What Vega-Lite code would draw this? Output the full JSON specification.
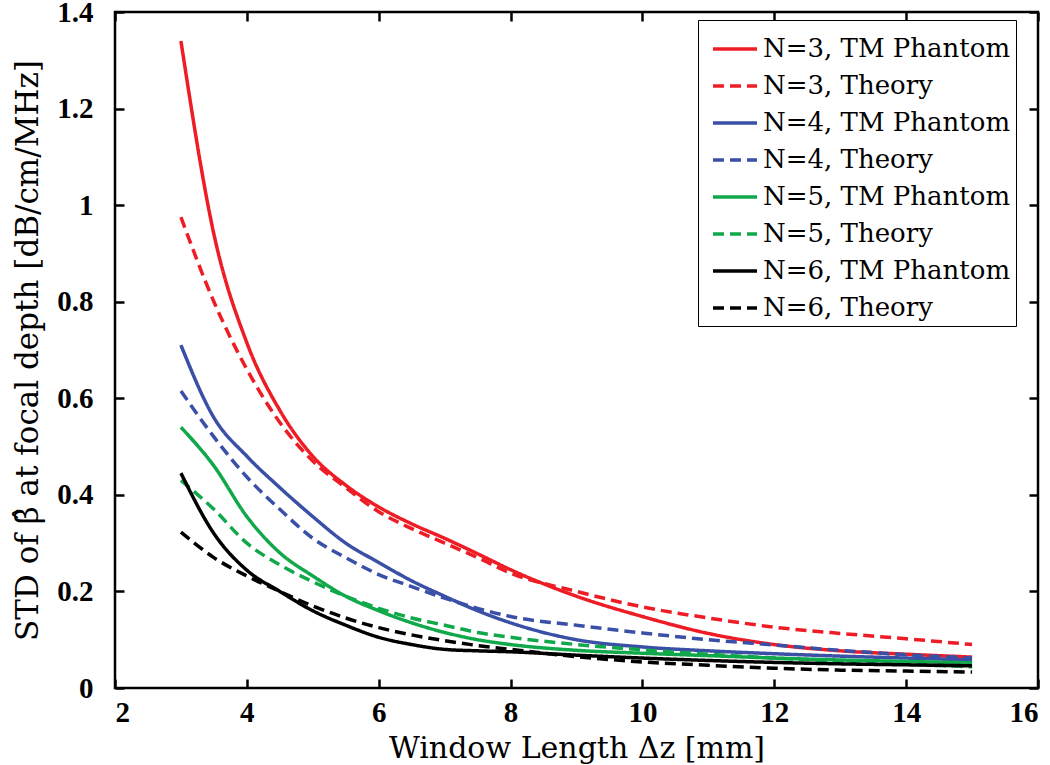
{
  "$schema": "https://vega.github.io/schema/vega-lite/v6.json",
  "width": 923,
  "height": 676,
  "autosize": "none",
  "padding": {"left": 115, "top": 12, "right": 12, "bottom": 77},
  "background": "white",
  "config": {
    "view": {"stroke": "black", "strokeWidth": 2.5},
    "axis": {
      "grid": false,
      "domain": false,
      "tickColor": "black",
      "tickWidth": 2.5,
      "tickSize": -9,
      "labelFont": "Liberation Serif",
      "labelFontWeight": "bold",
      "labelFontSize": 29,
      "labelColor": "black",
      "titleFont": "DejaVu Serif",
      "titleFontWeight": "normal",
      "titleFontSize": 30,
      "titleColor": "black"
    }
  },
  "data": {"values": [
    {"x": 3, "y": 1.34, "s": "N=3, TM Phantom"},
    {"x": 3.5, "y": 0.94, "s": "N=3, TM Phantom"},
    {"x": 4, "y": 0.715, "s": "N=3, TM Phantom"},
    {"x": 4.5, "y": 0.575, "s": "N=3, TM Phantom"},
    {"x": 5, "y": 0.48, "s": "N=3, TM Phantom"},
    {"x": 5.5, "y": 0.42, "s": "N=3, TM Phantom"},
    {"x": 6, "y": 0.375, "s": "N=3, TM Phantom"},
    {"x": 6.5, "y": 0.34, "s": "N=3, TM Phantom"},
    {"x": 7, "y": 0.31, "s": "N=3, TM Phantom"},
    {"x": 7.5, "y": 0.278, "s": "N=3, TM Phantom"},
    {"x": 8, "y": 0.245, "s": "N=3, TM Phantom"},
    {"x": 9, "y": 0.19, "s": "N=3, TM Phantom"},
    {"x": 10, "y": 0.148, "s": "N=3, TM Phantom"},
    {"x": 11, "y": 0.113, "s": "N=3, TM Phantom"},
    {"x": 12, "y": 0.09, "s": "N=3, TM Phantom"},
    {"x": 13, "y": 0.077, "s": "N=3, TM Phantom"},
    {"x": 14, "y": 0.07, "s": "N=3, TM Phantom"},
    {"x": 15, "y": 0.064, "s": "N=3, TM Phantom"},

    {"x": 3, "y": 0.975, "s": "N=3, Theory"},
    {"x": 3.5, "y": 0.8, "s": "N=3, Theory"},
    {"x": 4, "y": 0.66, "s": "N=3, Theory"},
    {"x": 4.5, "y": 0.55, "s": "N=3, Theory"},
    {"x": 5, "y": 0.47, "s": "N=3, Theory"},
    {"x": 5.5, "y": 0.415, "s": "N=3, Theory"},
    {"x": 6, "y": 0.365, "s": "N=3, Theory"},
    {"x": 6.5, "y": 0.33, "s": "N=3, Theory"},
    {"x": 7, "y": 0.3, "s": "N=3, Theory"},
    {"x": 7.5, "y": 0.27, "s": "N=3, Theory"},
    {"x": 8, "y": 0.238, "s": "N=3, Theory"},
    {"x": 9, "y": 0.2, "s": "N=3, Theory"},
    {"x": 10, "y": 0.168, "s": "N=3, Theory"},
    {"x": 11, "y": 0.145, "s": "N=3, Theory"},
    {"x": 12, "y": 0.126, "s": "N=3, Theory"},
    {"x": 13, "y": 0.113, "s": "N=3, Theory"},
    {"x": 14, "y": 0.102, "s": "N=3, Theory"},
    {"x": 15, "y": 0.09, "s": "N=3, Theory"},

    {"x": 3, "y": 0.71, "s": "N=4, TM Phantom"},
    {"x": 3.5, "y": 0.56, "s": "N=4, TM Phantom"},
    {"x": 4, "y": 0.48, "s": "N=4, TM Phantom"},
    {"x": 4.5, "y": 0.415, "s": "N=4, TM Phantom"},
    {"x": 5, "y": 0.355, "s": "N=4, TM Phantom"},
    {"x": 5.5, "y": 0.3, "s": "N=4, TM Phantom"},
    {"x": 6, "y": 0.26, "s": "N=4, TM Phantom"},
    {"x": 6.5, "y": 0.222, "s": "N=4, TM Phantom"},
    {"x": 7, "y": 0.19, "s": "N=4, TM Phantom"},
    {"x": 7.5, "y": 0.16, "s": "N=4, TM Phantom"},
    {"x": 8, "y": 0.135, "s": "N=4, TM Phantom"},
    {"x": 9, "y": 0.1, "s": "N=4, TM Phantom"},
    {"x": 10, "y": 0.085, "s": "N=4, TM Phantom"},
    {"x": 11, "y": 0.077, "s": "N=4, TM Phantom"},
    {"x": 12, "y": 0.071, "s": "N=4, TM Phantom"},
    {"x": 13, "y": 0.066, "s": "N=4, TM Phantom"},
    {"x": 14, "y": 0.062, "s": "N=4, TM Phantom"},
    {"x": 15, "y": 0.058, "s": "N=4, TM Phantom"},

    {"x": 3, "y": 0.615, "s": "N=4, Theory"},
    {"x": 3.5, "y": 0.52, "s": "N=4, Theory"},
    {"x": 4, "y": 0.437, "s": "N=4, Theory"},
    {"x": 4.5, "y": 0.37, "s": "N=4, Theory"},
    {"x": 5, "y": 0.31, "s": "N=4, Theory"},
    {"x": 5.5, "y": 0.27, "s": "N=4, Theory"},
    {"x": 6, "y": 0.235, "s": "N=4, Theory"},
    {"x": 6.5, "y": 0.21, "s": "N=4, Theory"},
    {"x": 7, "y": 0.186, "s": "N=4, Theory"},
    {"x": 7.5, "y": 0.165, "s": "N=4, Theory"},
    {"x": 8, "y": 0.148, "s": "N=4, Theory"},
    {"x": 9, "y": 0.13, "s": "N=4, Theory"},
    {"x": 10, "y": 0.114, "s": "N=4, Theory"},
    {"x": 11, "y": 0.1, "s": "N=4, Theory"},
    {"x": 12, "y": 0.089, "s": "N=4, Theory"},
    {"x": 13, "y": 0.078, "s": "N=4, Theory"},
    {"x": 14, "y": 0.069, "s": "N=4, Theory"},
    {"x": 15, "y": 0.062, "s": "N=4, Theory"},

    {"x": 3, "y": 0.54, "s": "N=5, TM Phantom"},
    {"x": 3.5, "y": 0.46, "s": "N=5, TM Phantom"},
    {"x": 4, "y": 0.355, "s": "N=5, TM Phantom"},
    {"x": 4.5, "y": 0.28, "s": "N=5, TM Phantom"},
    {"x": 5, "y": 0.232, "s": "N=5, TM Phantom"},
    {"x": 5.5, "y": 0.19, "s": "N=5, TM Phantom"},
    {"x": 6, "y": 0.16, "s": "N=5, TM Phantom"},
    {"x": 6.5, "y": 0.135, "s": "N=5, TM Phantom"},
    {"x": 7, "y": 0.115, "s": "N=5, TM Phantom"},
    {"x": 7.5, "y": 0.1, "s": "N=5, TM Phantom"},
    {"x": 8, "y": 0.09, "s": "N=5, TM Phantom"},
    {"x": 9, "y": 0.078, "s": "N=5, TM Phantom"},
    {"x": 10, "y": 0.072, "s": "N=5, TM Phantom"},
    {"x": 11, "y": 0.067, "s": "N=5, TM Phantom"},
    {"x": 12, "y": 0.062, "s": "N=5, TM Phantom"},
    {"x": 13, "y": 0.058, "s": "N=5, TM Phantom"},
    {"x": 14, "y": 0.055, "s": "N=5, TM Phantom"},
    {"x": 15, "y": 0.052, "s": "N=5, TM Phantom"},

    {"x": 3, "y": 0.43, "s": "N=5, Theory"},
    {"x": 3.5, "y": 0.37, "s": "N=5, Theory"},
    {"x": 4, "y": 0.3, "s": "N=5, Theory"},
    {"x": 4.5, "y": 0.255, "s": "N=5, Theory"},
    {"x": 5, "y": 0.22, "s": "N=5, Theory"},
    {"x": 5.5, "y": 0.19, "s": "N=5, Theory"},
    {"x": 6, "y": 0.165, "s": "N=5, Theory"},
    {"x": 6.5, "y": 0.145, "s": "N=5, Theory"},
    {"x": 7, "y": 0.13, "s": "N=5, Theory"},
    {"x": 7.5, "y": 0.115, "s": "N=5, Theory"},
    {"x": 8, "y": 0.105, "s": "N=5, Theory"},
    {"x": 9, "y": 0.09, "s": "N=5, Theory"},
    {"x": 10, "y": 0.079, "s": "N=5, Theory"},
    {"x": 11, "y": 0.07, "s": "N=5, Theory"},
    {"x": 12, "y": 0.062, "s": "N=5, Theory"},
    {"x": 13, "y": 0.055, "s": "N=5, Theory"},
    {"x": 14, "y": 0.049, "s": "N=5, Theory"},
    {"x": 15, "y": 0.044, "s": "N=5, Theory"},

    {"x": 3, "y": 0.445, "s": "N=6, TM Phantom"},
    {"x": 3.5, "y": 0.32, "s": "N=6, TM Phantom"},
    {"x": 4, "y": 0.244, "s": "N=6, TM Phantom"},
    {"x": 4.5, "y": 0.2, "s": "N=6, TM Phantom"},
    {"x": 5, "y": 0.16, "s": "N=6, TM Phantom"},
    {"x": 5.5, "y": 0.13, "s": "N=6, TM Phantom"},
    {"x": 6, "y": 0.105, "s": "N=6, TM Phantom"},
    {"x": 6.5, "y": 0.09, "s": "N=6, TM Phantom"},
    {"x": 7, "y": 0.08, "s": "N=6, TM Phantom"},
    {"x": 7.5, "y": 0.077, "s": "N=6, TM Phantom"},
    {"x": 8, "y": 0.075, "s": "N=6, TM Phantom"},
    {"x": 9, "y": 0.068, "s": "N=6, TM Phantom"},
    {"x": 10, "y": 0.062, "s": "N=6, TM Phantom"},
    {"x": 11, "y": 0.057, "s": "N=6, TM Phantom"},
    {"x": 12, "y": 0.053, "s": "N=6, TM Phantom"},
    {"x": 13, "y": 0.05, "s": "N=6, TM Phantom"},
    {"x": 14, "y": 0.048, "s": "N=6, TM Phantom"},
    {"x": 15, "y": 0.046, "s": "N=6, TM Phantom"},

    {"x": 3, "y": 0.323, "s": "N=6, Theory"},
    {"x": 3.5, "y": 0.27, "s": "N=6, Theory"},
    {"x": 4, "y": 0.232, "s": "N=6, Theory"},
    {"x": 4.5, "y": 0.2, "s": "N=6, Theory"},
    {"x": 5, "y": 0.17, "s": "N=6, Theory"},
    {"x": 5.5, "y": 0.145, "s": "N=6, Theory"},
    {"x": 6, "y": 0.125, "s": "N=6, Theory"},
    {"x": 6.5, "y": 0.11, "s": "N=6, Theory"},
    {"x": 7, "y": 0.098, "s": "N=6, Theory"},
    {"x": 7.5, "y": 0.088, "s": "N=6, Theory"},
    {"x": 8, "y": 0.08, "s": "N=6, Theory"},
    {"x": 9, "y": 0.065, "s": "N=6, Theory"},
    {"x": 10, "y": 0.054, "s": "N=6, Theory"},
    {"x": 11, "y": 0.047, "s": "N=6, Theory"},
    {"x": 12, "y": 0.041, "s": "N=6, Theory"},
    {"x": 13, "y": 0.037, "s": "N=6, Theory"},
    {"x": 14, "y": 0.035, "s": "N=6, Theory"},
    {"x": 15, "y": 0.033, "s": "N=6, Theory"}
  ]},
  "layer": [
    {
      "mark": {"type": "line", "strokeWidth": 3.5, "interpolate": "monotone"},
      "encoding": {
        "x": {"field": "x", "type": "quantitative", "scale": {"domain": [2, 16], "nice": false, "zero": false},
              "axis": {"orient": "bottom", "title": "Window Length Δz [mm]", "values": [2, 4, 6, 8, 10, 12, 14, 16], "labelPadding": 19, "titlePadding": 6}},
        "y": {"field": "y", "type": "quantitative", "scale": {"domain": [0, 1.4], "nice": false},
              "axis": {"orient": "left", "title": "STD of β̂ at focal depth [dB/cm/MHz]", "titleFontSize": 31, "values": [0, 0.2, 0.4, 0.6, 0.8, 1, 1.2, 1.4], "format": "~g", "labelPadding": 31, "titlePadding": 12}},
        "color": {"field": "s", "type": "nominal", "title": null,
          "scale": {"domain": ["N=3, TM Phantom", "N=3, Theory", "N=4, TM Phantom", "N=4, Theory", "N=5, TM Phantom", "N=5, Theory", "N=6, TM Phantom", "N=6, Theory"],
                    "range": ["#ee1c25", "#ee1c25", "#3a4fa6", "#3a4fa6", "#10a84a", "#10a84a", "#000000", "#000000"]},
          "legend": {"orient": "none", "legendX": 583, "legendY": 8, "symbolType": "stroke", "symbolSize": 1936, "symbolStrokeWidth": 3.5,
                     "labelFont": "DejaVu Serif", "labelFontSize": 26, "labelColor": "black", "strokeColor": "black", "fillColor": "white",
                     "padding": 5, "rowPadding": -5, "labelOffset": 4, "labelLimit": 400, "symbolOffset": 8}},
        "strokeDash": {"field": "s", "type": "nominal", "title": null,
          "scale": {"domain": ["N=3, TM Phantom", "N=3, Theory", "N=4, TM Phantom", "N=4, Theory", "N=5, TM Phantom", "N=5, Theory", "N=6, TM Phantom", "N=6, Theory"],
                    "range": [[1, 0], [11, 6], [1, 0], [11, 6], [1, 0], [11, 6], [1, 0], [11, 6]]}}
      }
    },
    {
      "mark": {"type": "point", "opacity": 0},
      "encoding": {
        "x": {"field": "x", "type": "quantitative", "axis": {"orient": "top", "title": null, "labels": false, "values": [2, 4, 6, 8, 10, 12, 14, 16]}},
        "y": {"field": "y", "type": "quantitative", "axis": {"orient": "right", "title": null, "labels": false, "values": [0, 0.2, 0.4, 0.6, 0.8, 1, 1.2, 1.4]}}
      }
    }
  ],
  "resolve": {"axis": {"x": "independent", "y": "independent"}}
}
